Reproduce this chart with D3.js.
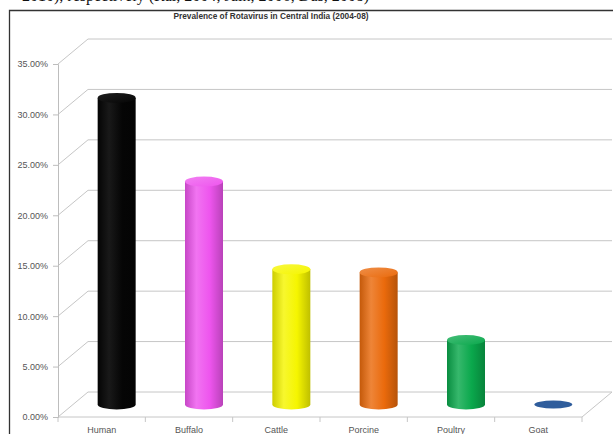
<!DOCTYPE html>
<html>
<head>
<meta charset="utf-8">
<script src="https://cdn.jsdelivr.net/npm/d3@7"></script>
<style>
	body { margin: 0; background: #fff; }
	svg { display: block; }
	.tick text { font-family: 'Liberation Sans', Arial, sans-serif; }
</style>
</head>
<body>
<svg width="613" height="434"></svg>
<script>
// data
const categories = ['Human', 'Buffalo', 'Cattle', 'Porcine', 'Poultry', 'Goat']
const prevalence = [0.304, 0.221, 0.134, 0.131, 0.064, 0.0]
const barColors = ['#050505', '#ee55ee', '#f5f500', '#ea6a0c', '#0aa84c', '#2f5d9c']
const yTicks = [0, 0.05, 0.10, 0.15, 0.20, 0.25, 0.30, 0.35]

const svg = d3.select('svg')

// depth of the fake 3d box
const dx = 30, dy = -25

const x = d3.scaleBand()
	.domain(categories)
	.range([58, 582])

const y = d3.scaleLinear()
	.domain([0, 0.35])
	.range([417, 64])

// bottom edge of the page text above the chart (cut off in the source)
svg.append('text')
	.attr('x', 22).attr('y', 0.5)
	.attr('font-family', 'Liberation Serif, serif')
	.attr('font-size', 16)
	.attr('fill', '#111')
	.text('2010), respectively (Rai, 2004; Jain, 2006; Das, 2008)')

// chart frame
svg.append('path')
	.attr('d', 'M9.5 440 V10.5 H620')
	.attr('fill', 'none')
	.attr('stroke', '#333')
	.attr('stroke-width', 1.3)

svg.append('text')
	.attr('x', 271).attr('y', 19)
	.attr('text-anchor', 'middle')
	.attr('font-family', 'Liberation Sans, Arial, sans-serif')
	.attr('font-weight', 'bold')
	.attr('font-size', 8.3)
	.attr('fill', '#333')
	.text('Prevalence of Rotavirus in Central India (2004-08)')

// walls: diagonal on the side wall + horizontal on the back wall
let grid = svg.append('g')
	.attr('stroke', '#c6c6c6')
	.attr('stroke-width', 1)
	.attr('fill', 'none')

grid.selectAll('path')
	.data(yTicks).enter()
	.append('path')
	.attr('d', d => `M${x.range()[0]} ${y(d)} l${dx} ${dy} H${x.range()[1] + dx}`)

// floor
grid.append('path')
	.attr('d', `M${x.range()[0]} ${y(0)} H${x.range()[1]} l${dx} ${dy}`)

// category boundary ticks
grid.selectAll('line.bt')
	.data(d3.range(categories.length + 1)).enter()
	.append('line')
	.attr('x1', i => x.range()[0] + i * x.step())
	.attr('x2', i => x.range()[0] + i * x.step())
	.attr('y1', y(0))
	.attr('y2', y(0) + 5)

// value axis
let yAxis = svg.append('g')
	.attr('transform', `translate(${x.range()[0]},0)`)
	.call(d3.axisLeft(y).tickValues(yTicks).tickFormat(d3.format('.2%')).tickSize(5).tickPadding(5))

yAxis.select('.domain').attr('stroke', '#bdbdbd')
yAxis.selectAll('.tick line').attr('stroke', '#bdbdbd')
yAxis.selectAll('.tick text')
	.attr('font-size', 9)
	.attr('fill', '#555')

// category labels
svg.append('g')
	.selectAll('text')
	.data(categories).enter()
	.append('text')
	.attr('x', d => x(d) + x.bandwidth() / 2)
	.attr('y', 433)
	.attr('text-anchor', 'middle')
	.attr('font-family', 'Liberation Sans, Arial, sans-serif')
	.attr('font-size', 9)
	.attr('fill', '#555')
	.text(d => d)

// shading for the cylinders
let defs = svg.append('defs')
barColors.forEach((c, i) => {
	let base = d3.color(c)
	let g = defs.append('linearGradient').attr('id', 'cyl' + i)
	let stops = [
		[0, base.darker(0.5)],
		[0.3, d3.interpolateRgb(base, '#fff')(i === 0 ? 0.08 : 0.18)],
		[0.65, base],
		[1, base.darker(0.7)]
	]
	stops.forEach(s => g.append('stop').attr('offset', s[0]).attr('stop-color', s[1]))
	let t = defs.append('linearGradient').attr('id', 'top' + i)
		.attr('x1', 0).attr('y1', 0).attr('x2', 1).attr('y2', 1)
	t.append('stop').attr('offset', 0).attr('stop-color', d3.interpolateRgb(base, '#fff')(i === 0 ? 0.1 : 0.25))
	t.append('stop').attr('offset', 1).attr('stop-color', base)
})

const rx = 19, ry = 5
const bars = categories.map((c, i) => ({ cat: c, v: prevalence[i], i: i }))

let bg = svg.append('g')
	.selectAll('g')
	.data(bars).enter()
	.append('g')

const cx = d => x(d.cat) + x.bandwidth() / 2 + dx / 2

bg.filter(d => d.v > 0)
	.append('path')
	.attr('fill', d => `url(#cyl${d.i})`)
	.attr('d', d => {
		let yt = y(d.v) + dy / 2, yb = y(0) + dy / 2
		return `M${cx(d) - rx} ${yt} V${yb} A${rx} ${ry} 0 0 0 ${cx(d) + rx} ${yb} V${yt} Z`
	})

bg.append('ellipse')
	.attr('cx', cx)
	.attr('cy', d => y(d.v) + dy / 2)
	.attr('rx', rx)
	.attr('ry', d => d.v > 0 ? ry : 4)
	.attr('fill', d => d.v > 0 ? `url(#top${d.i})` : barColors[d.i])
</script>
</body>
</html>
